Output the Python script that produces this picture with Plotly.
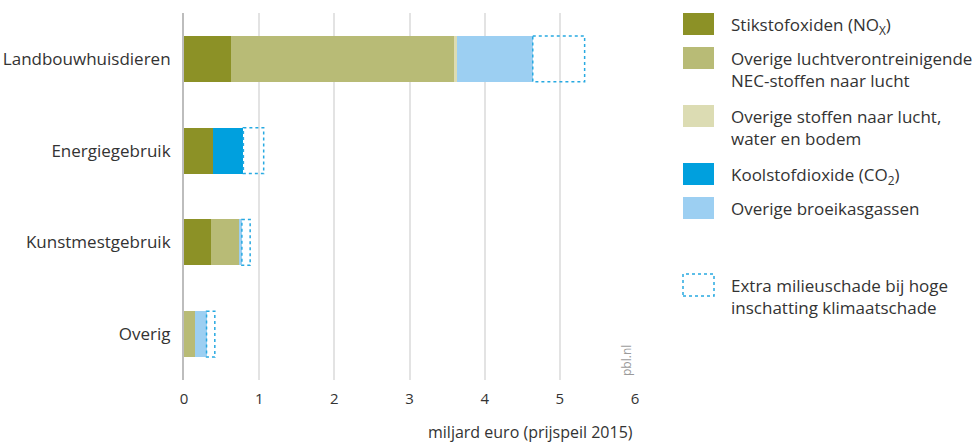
import plotly.graph_objects as go

categories = ["Landbouwhuisdieren", "Energiegebruik", "Kunstmestgebruik", "Overig"]

nox = [0.62, 0.38, 0.36, 0.0]
overige_lucht = [2.97, 0.0, 0.37, 0.15]
overige_stoffen = [0.04, 0.0, 0.0, 0.0]
co2 = [0.0, 0.41, 0.0, 0.0]
broeikas = [1.01, 0.0, 0.04, 0.15]
extra = [0.69, 0.27, 0.11, 0.11]

series = [
    ("Stikstofoxiden (NO<sub>X</sub>)", nox, "#8c9126"),
    ("Overige luchtverontreinigende<br>NEC-stoffen naar lucht", overige_lucht, "#b8bb76"),
    ("Overige stoffen naar lucht,<br>water en bodem", overige_stoffen, "#dcdcb3"),
    ("Koolstofdioxide (CO<sub>2</sub>)", co2, "#00a0de"),
    ("Overige broeikasgassen", broeikas, "#9ccff2"),
]
extra_label = "Extra milieuschade bij hoge<br>inschatting klimaatschade"
dash_color = "#27a9e1"
font = "Open Sans"
text_color = "#333333"

fig = go.Figure()
for name, vals, color in series:
    fig.add_trace(go.Bar(
        name=name, y=categories, x=vals, orientation="h",
        marker=dict(color=color, line=dict(width=0)),
        showlegend=False,
    ))

# dotted boxes for the extra damage, placed on the data axes
for i, cat in enumerate(categories):
    base = nox[i] + overige_lucht[i] + overige_stoffen[i] + co2[i] + broeikas[i]
    fig.add_shape(
        type="rect", xref="x", yref="y",
        x0=base, x1=base + extra[i], y0=i - 0.25, y1=i + 0.25,
        line=dict(color=dash_color, width=1.5, dash="dot"),
        fillcolor="rgba(0,0,0,0)",
    )

# hand-made legend on the right (pixel rows converted to paper coords)
def px_x(px):
    return (px - 184) / 451


def px_y(py):
    return (380 - py) / 367


legend_rows = [
    (series[0][0], series[0][2], 24, False),
    (series[1][0], series[1][2], 58, False),
    (series[2][0], series[2][2], 116, False),
    (series[3][0], series[3][2], 174, False),
    (series[4][0], series[4][2], 208, False),
    (extra_label, None, 285, True),
]
for label, color, yc, dashed in legend_rows:
    if dashed:
        fig.add_shape(type="rect", xref="paper", yref="paper",
                      x0=px_x(683), x1=px_x(714), y0=px_y(yc + 11), y1=px_y(yc - 11),
                      line=dict(color=dash_color, width=1.5, dash="dot"))
    else:
        fig.add_shape(type="rect", xref="paper", yref="paper",
                      x0=px_x(683), x1=px_x(714), y0=px_y(yc + 11), y1=px_y(yc - 11),
                      line=dict(width=0), fillcolor=color)
    fig.add_annotation(
        text=label, xref="paper", yref="paper",
        x=px_x(729), y=px_y(yc - 13),
        xanchor="left", yanchor="top", align="left", showarrow=False,
        font=dict(family=font, size=17, color=text_color),
    )

fig.add_annotation(
    text="miljard euro (prijspeil 2015)", xref="paper", yref="paper",
    x=1.0, y=px_y(432), xanchor="right", yanchor="middle",
    showarrow=False, font=dict(family=font, size=16, color=text_color),
)
fig.add_annotation(
    text="pbl.nl", xref="x", yref="paper", x=5.88, y=px_y(360),
    textangle=-90, showarrow=False, xanchor="center", yanchor="middle",
    font=dict(family=font, size=12, color="#9a9a9a"),
)

fig.update_layout(
    barmode="stack",
    bargap=0.5,
    width=974, height=443,
    margin=dict(l=184, r=339, t=13, b=63),
    paper_bgcolor="white", plot_bgcolor="white",
    font=dict(family=font, size=17, color=text_color),
    xaxis=dict(
        range=[0, 6], dtick=1, showgrid=True, gridcolor="#e3e3e3", gridwidth=1.5,
        zeroline=False, showline=False, ticks="", ticklabelstandoff=8,
        tickfont=dict(size=15), automargin=False,
    ),
    yaxis=dict(
        categoryorder="array", categoryarray=categories,
        range=[3.5, -0.5], showgrid=False, showline=True, linecolor="#bdbdbd",
        linewidth=2, ticks="", ticklabelstandoff=8, zeroline=False,
        automargin=False,
    ),
)

fig.write_html("out.html", config={"displayModeBar": False},
               post_script="document.body.style.margin='0';")
